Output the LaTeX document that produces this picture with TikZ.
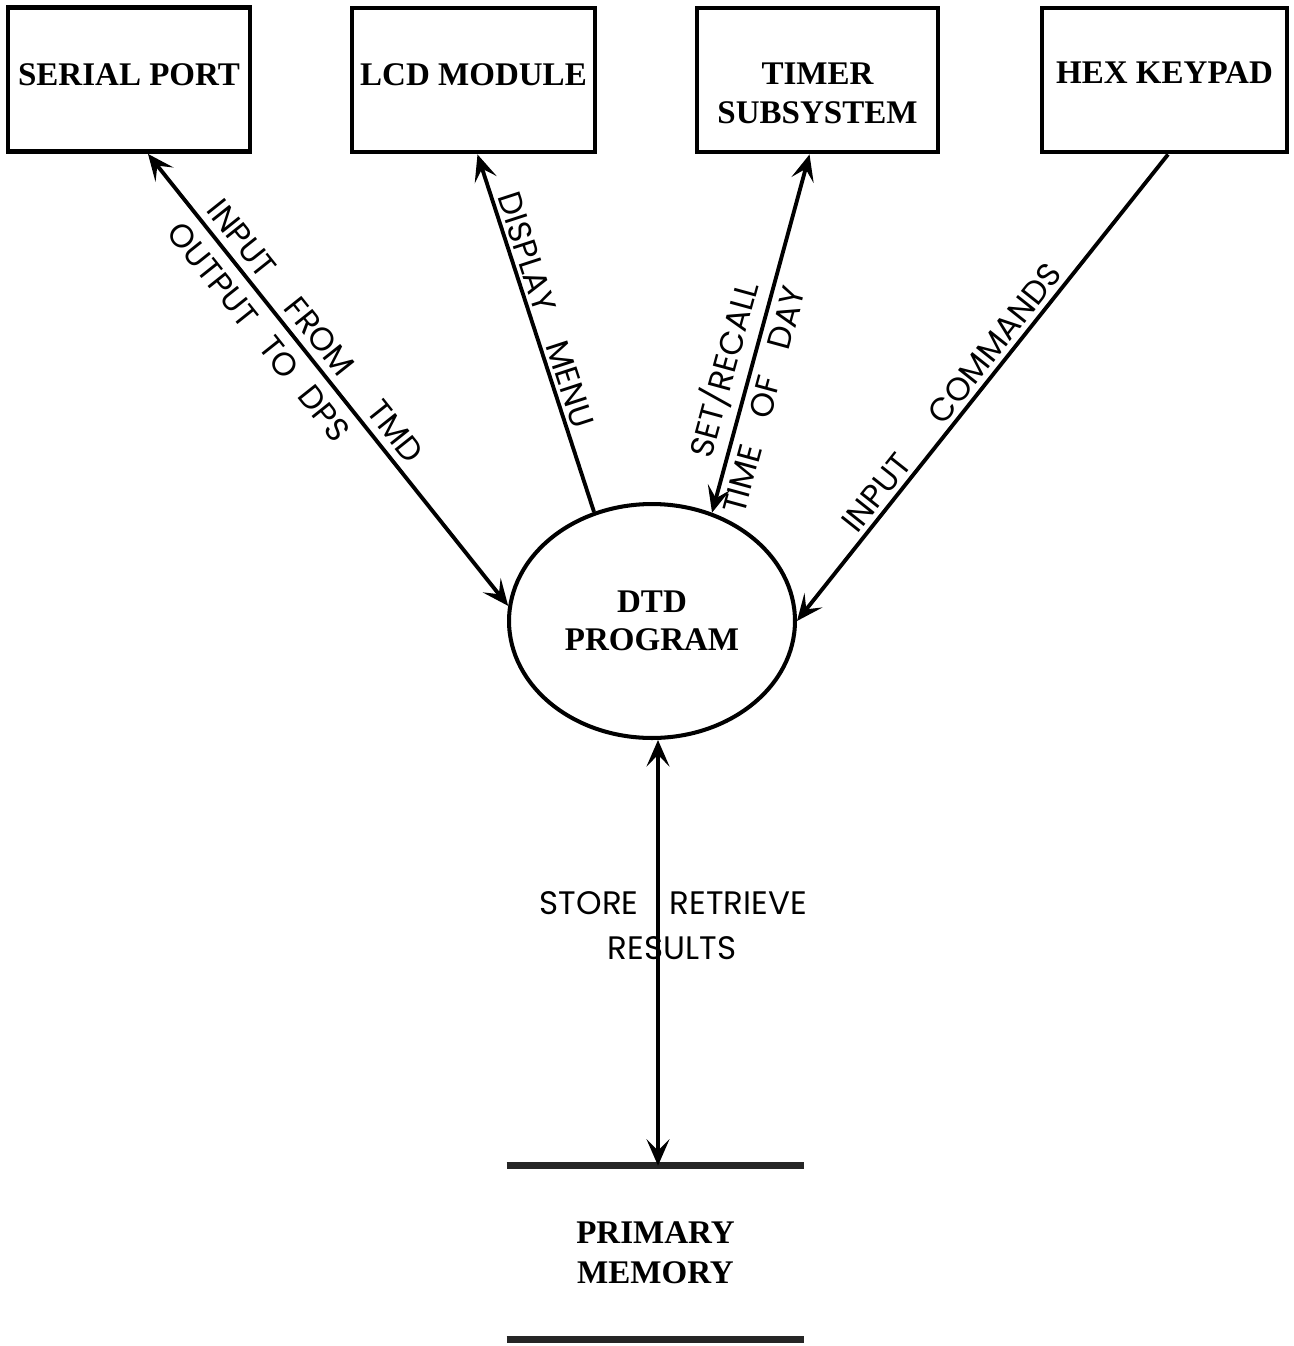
\documentclass[tikz,border=0pt]{standalone}
\usepackage{fontspec}
\setmainfont{Liberation Serif}
\newfontfamily\handfont{Poppins}
\usetikzlibrary{arrows.meta,shapes.geometric,calc}

\begin{document}
\begin{tikzpicture}[x=0.02cm,y=-0.02cm,
  box/.style={draw, line width=2.8pt, inner sep=0pt, minimum height=2.88cm},
  boxtext/.style={font=\bfseries\fontsize{18.8}{22.5}\selectfont, align=center, inner sep=0pt},
  proc/.style={draw, ellipse, line width=2.3pt, inner sep=0pt,
    minimum width=5.72cm, minimum height=4.68cm,
    font=\bfseries\fontsize{18.8}{22}\selectfont, align=center},
  store/.style={line width=4pt, black!85},
  flow/.style={line width=2.2pt},
  hd/.tip={Stealth[length=15pt,width=13pt,inset=6.5pt]},
  hand/.style={font=\handfont\fontsize{18.5}{20}\selectfont},
  along/.style={hand, sloped},
]
\useasboundingbox (0,0) rectangle (1294,1346);

% external entities
\node[box, minimum width=4.84cm] (sp)  at (129,79.5) {};
\node[box, minimum width=4.86cm] (lcd) at (473.5,80) {};
\node[box, minimum width=4.82cm] (tim) at (817.5,80) {};
\node[box, minimum width=4.90cm] (hex) at (1164.5,80) {};
\node[boxtext, yshift=2.6pt]  (spt)  at (sp)  {SERIAL PORT};
\node[boxtext, yshift=2.8pt]  (lcdt) at (lcd) {LCD MODULE};
\node[boxtext, yshift=-7.5pt] (timt) at (tim) {TIMER\\SUBSYSTEM};
\node[boxtext, yshift=4.2pt]  (hext) at (hex) {HEX KEYPAD};

% process
\node[proc] (dtd) at (652,621) {DTD\\PROGRAM};

% data store
\node[font=\bfseries\fontsize{18.8}{22.5}\selectfont, align=center, inner sep=0pt,
      minimum width=5.94cm, minimum height=3.46cm] (mem) at (655.5,1252.5) {PRIMARY\\MEMORY};
\draw[store] (mem.north west) -- (mem.north east);
\draw[store] (mem.south west) -- (mem.south east);

% data flows
\draw[flow, hd-hd] ($(sp.south)+(19,0)$) -- (dtd.174)
  node[along, pos=0.42, above, inner sep=4pt] {INPUT\hspace{1.1em}FROM\hspace{1.3em}TMD}
  node[along, pos=0.36, below, inner sep=6pt] {OUTPUT\hspace{0.7em}TO\hspace{0.6em}DPS};

\draw[flow, hd-] ($(lcd.south)+(4,0)$) -- (dtd.118)
  node[along, pos=0.45, above, inner sep=2pt] {DISPLAY\hspace{1em}MENU};

\draw[flow, hd-hd] ($(tim.south)+(-8,0)$) -- (dtd.61.6)
  node[along, pos=0.62, above, inner sep=4pt] {SET/RECALL}
  node[along, pos=0.67, below, inner sep=4pt] {TIME\hspace{0.9em}OF\hspace{0.9em}DAY};

\draw[flow, -hd] ($(hex.south)+(3.5,0)$) -- (dtd.0)
  node[along, pos=0.545, above, inner sep=2.5pt] {INPUT\hspace{1.5em}COMMANDS};

\draw[flow, hd-hd] ($(dtd.south)+(6,0)$) -- ($(mem.north)+(2.5,0)$)
  node[hand, pos=0.383, anchor=east, inner sep=0pt, xshift=-10pt] {STORE}
  node[hand, pos=0.383, anchor=west, inner sep=0pt, xshift=5.7pt] {RETRIEVE}
  node[hand, pos=0.488, inner sep=0pt, xshift=8pt] {RESULTS};
\end{tikzpicture}
\end{document}
